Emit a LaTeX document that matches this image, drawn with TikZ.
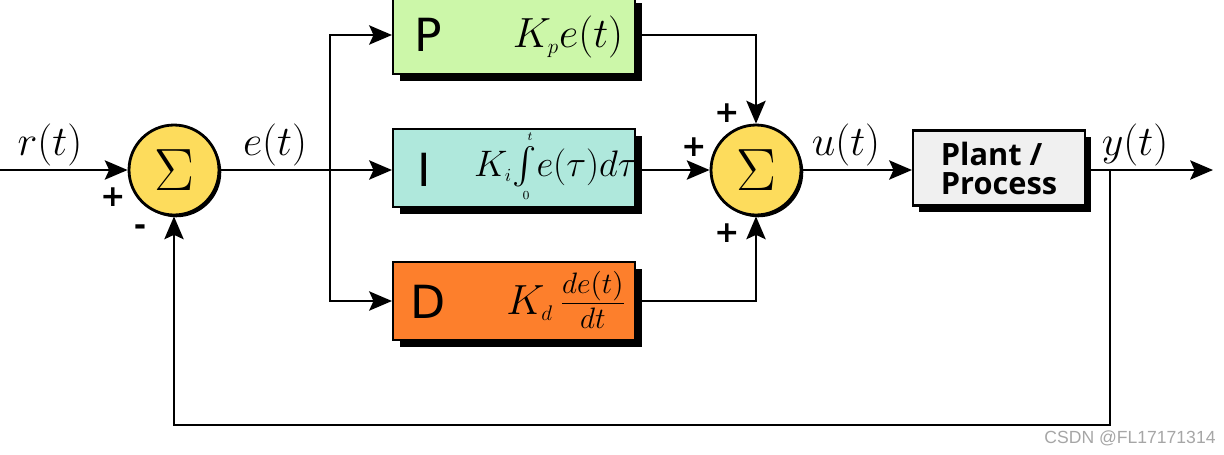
\documentclass[tikz,border=0pt]{standalone}
\usepackage{fix-cm}
\usepackage{amsmath}
\usepackage{fontspec}
\newfontfamily\blkfont{DejaVu Sans}
\newfontfamily\plantfont{Open Sans}
\newfontfamily\markfont{Liberation Sans}
\usetikzlibrary{arrows.meta,shadows}

\begin{document}
\begin{tikzpicture}[x=0.02cm, y=-0.02cm,
  wire/.style={line width=1.1pt},
  sig/.style={wire, -{Stealth[length=13pt, width=11pt, inset=2.5pt]}},
  sumnode/.style={circle, draw, line width=1.6pt, fill=yellowPID, minimum size=1.8cm, inner sep=0pt,
    drop shadow={shadow xshift=1.3pt, shadow yshift=-1.3pt, opacity=1, fill=black}},
  gainbox/.style={draw, line width=1.2pt, minimum width=4.84cm, minimum height=1.56cm, inner sep=0pt,
    drop shadow={shadow xshift=4pt, shadow yshift=-4pt, opacity=1, fill=black}},
  letter/.style={font=\blkfont\fontsize{26}{30}\selectfont},
  gain/.style={font=\fontsize{24}{28}\selectfont},
  limit/.style={font=\fontsize{7}{8}\selectfont, inner sep=0pt},
  sign/.style={font=\blkfont\bfseries\fontsize{17}{20}\selectfont}]

\definecolor{yellowPID}{HTML}{fddc5c}
\definecolor{greenPID}{HTML}{ccf7a9}
\definecolor{tealPID}{HTML}{afe8dc}
\definecolor{orangePID}{HTML}{fd7f2c}
\definecolor{greyPID}{HTML}{f0f0f0}

\useasboundingbox (0,0) rectangle (1224,454);

% summing junctions
\node[sumnode] (sum1) at (174,170) {\fontsize{34}{40}\selectfont$\Sigma$};
\node[sumnode] (sum2) at (756,170) {\fontsize{34}{40}\selectfont$\Sigma$};

% P, I, D blocks
\node[gainbox, fill=greenPID] (pbox) at (514,35) {};
\node[gainbox, fill=tealPID] (ibox) at (514,168) {};
\node[gainbox, fill=orangePID] (dbox) at (514,301) {};

\node[letter] (pletter) at (428,35) {P};
\node[letter] (iletter) at (424,170) {I};
\node[letter] (dletter) at (428,302) {D};

\node[gain] (pgain) at (568,37) {$K_{\scriptscriptstyle p}e(t)$};
\node[gain, font=\fontsize{21}{25}\selectfont] (igain) at (556,167) {$K_{\scriptscriptstyle i}\!\int\! e(\tau)d\tau$};
\node[limit] (iup) at (530,137) {$t$};
\node[limit] (ilow) at (526,196) {$0$};
\node[gain] (dgain) at (566,300) {$K_{\scriptscriptstyle d}\,\frac{de(t)}{dt}$};

% plant
\node[draw, line width=1.2pt, fill=greyPID, minimum width=3.44cm, minimum height=1.5cm, inner sep=0pt,
  drop shadow={shadow xshift=3.5pt, shadow yshift=-3.5pt, opacity=1, fill=black},
  align=left, font=\plantfont\bfseries\fontsize{17.5}{16.5}\selectfont] (plant) at (999,168) {Plant /\\Process};

% branch points
\coordinate (inp) at (0,170);
\coordinate (split) at (330,170);
\coordinate (tap) at (1110,170);
\coordinate (outp) at (1213,170);
\coordinate (fb) at (1110,425);

% signal lines
\draw[sig] (inp) -- (sum1);
\draw[wire] (sum1) -- (split);
\draw[sig] (split) |- (pbox);
\draw[sig] (split) -- (split -| ibox.west);
\draw[sig] (split) |- (dbox);
\draw[sig] (pbox) -| (sum2);
\draw[sig] (ibox.east |- sum2) -- (sum2);
\draw[sig] (dbox) -| (sum2);
\draw[sig] (sum2) -- (sum2 -| plant.west);
\draw[sig] (plant.east |- tap) -- (outp);
\draw[sig] (tap) -- (fb) -| (sum1);

% signal names
\node[gain] (rlabel) at (50,145) {$r(t)$};
\node[gain] (elabel) at (275,145) {$e(t)$};
\node[gain] (ulabel) at (846,145) {$u(t)$};
\node[gain] (ylabel) at (1135,145) {$y(t)$};

% signs
\node[sign] (s1) at (113,197) {+};
\node[sign] (s2) at (140,230) {-};
\node[sign] (s3) at (727,113) {+};
\node[sign] (s4) at (694,147) {+};
\node[sign] (s5) at (727,233) {+};

\node[font=\markfont\fontsize{10}{12}\selectfont, text=gray!70] (mark) at (1130,438) {CSDN @FL17171314};
\end{tikzpicture}
\end{document}
